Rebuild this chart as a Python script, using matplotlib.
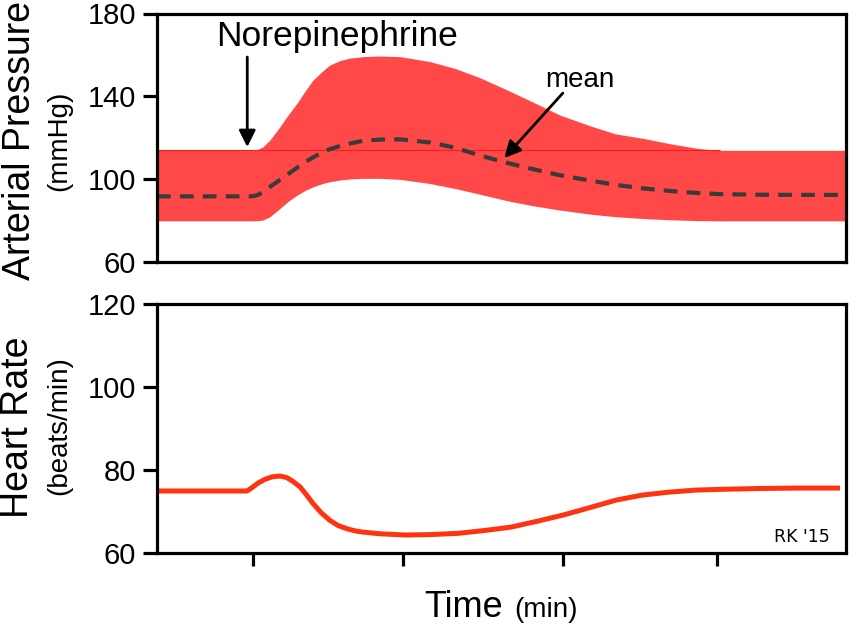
import matplotlib
matplotlib.use("Agg")
import matplotlib.pyplot as plt

# ---------------- data (time in arbitrary units, 0-100 across the axes) -------------
time_bp = [0.0, 13.50, 13.93, 14.66, 15.38, 16.40, 17.85, 19.01, 20.32, 21.48, 22.64,
           23.95, 25.11, 26.56, 28.01, 29.90, 32.37, 35.27, 39.62, 43.25, 46.88, 51.23,
           54.86, 58.49, 62.70, 66.47, 70.68, 74.46, 78.52, 81.71, 87.52, 93.32, 100.0]
systolic = [114, 114, 114, 114.5, 115.7, 119, 125.4, 131, 136.7, 142.5, 147.9, 152,
            155.2, 157.3, 158.5, 159.2, 159.5, 159.2, 156.8, 153.5, 149, 142.5, 136.8,
            131, 126, 122, 119.7, 117.2, 114.9, 114, 114, 114, 114]
diastolic = [80, 80, 80, 80.1, 80.4, 82, 86, 89.3, 92.4, 94.6, 96.4, 97.9, 98.9, 99.7,
             100.2, 100.5, 100.5, 100, 98, 95.6, 92.8, 89.4, 87.1, 85.2, 83.3, 82, 81.1,
             80.5, 80.1, 80, 80, 80, 80]
mean_bp = [91.8, 91.8, 91.9, 92.5, 93.8, 96.4, 99.8, 102.5, 105.6, 108.3, 110.6, 113,
           114.6, 116.1, 117.3, 118.6, 119.2, 119.3, 117.8, 115.3, 111.5, 107.6, 104.7,
           102, 99.5, 97.4, 95.6, 94.4, 93.4, 92.9, 92.6, 92.5, 92.5]

time_hr = [0.0, 13.06, 13.79, 14.66, 15.67, 16.69, 17.85, 18.87, 19.74, 20.75, 21.63,
           22.64, 23.80, 25.11, 26.27, 27.58, 28.74, 29.90, 32.37, 35.99, 39.62, 43.69,
           47.6, 51.38, 55.15, 58.93, 62.84, 66.62, 70.39, 74.17, 78.08, 81.86, 87.52,
           93.32, 99.13]
heart_rate = [75, 75, 75.8, 76.9, 77.8, 78.4, 78.6, 78.2, 77.3, 76, 74.2, 72, 69.8, 67.9,
              66.7, 65.9, 65.4, 65.1, 64.7, 64.4, 64.5, 64.8, 65.5, 66.3, 67.7, 69.2, 71,
              72.8, 74, 74.7, 75.2, 75.4, 75.6, 75.7, 75.7]

time_ticks = [13.9, 35.7, 58.9, 81.3]
bp_ticks = [60, 100, 140, 180]
hr_ticks = [60, 80, 100, 120]

# ---------------- styling ----------------
plt.rcParams['font.family'] = ['Liberation Sans', 'DejaVu Sans']
W, H = 850, 624
fig = plt.figure(figsize=(W / 100, H / 100), dpi=100)
fig.patch.set_facecolor('white')

def px2fig(x0, y_top, x1, y_bot):
    return [x0 / W, 1 - y_bot / H, (x1 - x0) / W, (y_bot - y_top) / H]

ax1 = fig.add_axes(px2fig(157, 13.5, 846, 262.3))
ax2 = fig.add_axes(px2fig(157, 304, 846, 553.3))

band_color = '#ff4848'
for ax in (ax1, ax2):
    for s in ax.spines.values():
        s.set_linewidth(2.3)
        s.set_color('black')
    ax.set_xlim(0, 100)
    ax.tick_params(axis='y', direction='out', length=10, width=2.3, pad=5,
                   labelsize=21)
    ax.set_facecolor('none')

# top panel
ax1.fill_between(time_bp, diastolic, systolic, color=band_color, lw=0)
ax1.hlines(systolic[0], time_bp[0], time_bp[29], color='#ff1a1a', lw=0.8)
ax1.plot(time_bp, mean_bp, color='#3a3a3a', lw=3, dashes=(3.3, 2.2))
ax1.set_ylim(60, 180)
ax1.set_yticks(bp_ticks)
ax1.set_xticks([])

ax1.annotate('', xy=(13.1, 115.6), xytext=(13.1, 159),
             arrowprops=dict(arrowstyle='-|>', color='black', lw=2,
                             mutation_scale=25, shrinkA=0, shrinkB=0))
ax1.text(26.2, 164.3, 'Norepinephrine', fontsize=25.5, ha='center', va='baseline')
ax1.annotate('', xy=(50.4, 110.3), xytext=(58.9, 141.6),
             arrowprops=dict(arrowstyle='-|>', color='black', lw=2,
                             mutation_scale=25, shrinkA=0, shrinkB=0))
ax1.text(61.4, 144.5, 'mean', fontsize=20, ha='center', va='baseline')

# bottom panel
ax2.plot(time_hr, heart_rate, color='#ff3311', lw=3.6, solid_capstyle='butt',
         solid_joinstyle='round')
ax2.set_ylim(60, 120)
ax2.set_yticks(hr_ticks)
ax2.set_xticks(time_ticks)
ax2.set_xticklabels([])
ax2.tick_params(axis='x', direction='out', length=9, width=2.3)
ax2.text(0.976, 0.045, "RK '15", transform=ax2.transAxes, ha='right', va='baseline',
         fontsize=12.5, family='DejaVu Sans')

# labels
fig.text(30 / W, 1 - 141 / H, 'Arterial Pressure', rotation=90, rotation_mode='anchor',
         ha='center', va='baseline', fontsize=27)
fig.text(66 / W, 1 - 141 / H, '(mmHg)', rotation=90, rotation_mode='anchor',
         ha='center', va='baseline', fontsize=20)
fig.text(28 / W, 1 - 427 / H, 'Heart Rate', rotation=90, rotation_mode='anchor',
         ha='center', va='baseline', fontsize=27)
fig.text(66 / W, 1 - 426 / H, '(beats/min)', rotation=90, rotation_mode='anchor',
         ha='center', va='baseline', fontsize=20)
fig.text(503 / W, 1 - 617 / H, 'Time', ha='right', va='baseline', fontsize=26)
fig.text(514 / W, 1 - 617 / H, '(min)', ha='left', va='baseline', fontsize=20)

fig.savefig('out.png', dpi=100)
